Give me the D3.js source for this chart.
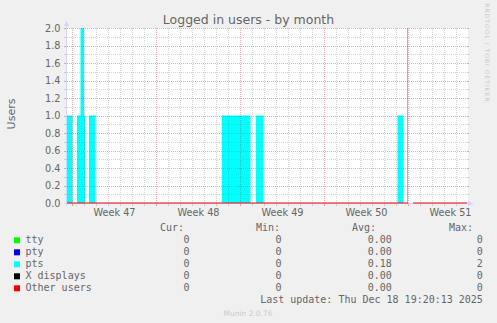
<!DOCTYPE html>
<html>
<head>
<meta charset="utf-8">
<script src="https://cdn.jsdelivr.net/npm/d3@7/dist/d3.min.js"></script>
<style>
  body { margin: 0; background: #f0f0f0; }
  svg { display: block; }
  text { font-family: "DejaVu Sans", sans-serif; font-size: 9.7px; fill: #666; }
  .title { font-size: 12.5px; }
  .vlabel { font-size: 11px; }
  .legend text { font-family: "DejaVu Sans Mono", monospace; font-size: 10px; }
  .faint { font-size: 7.5px; fill: #cacaca; }
</style>
</head>
<body>
<div id="chart"></div>
<script>
// time window of the month graph
var startTime = "2025-11-16 14:00",
    endTime = "2025-12-19 22:00";

// pts users as steps: each value holds until the next time
var ptsTimes = ["2025-11-16 14:00", "2025-11-17 01:00", "2025-11-17 10:00", "2025-11-17 17:00",
    "2025-11-18 00:00", "2025-11-18 02:00", "2025-11-18 10:00", "2025-11-18 23:00",
    "2025-11-29 12:00", "2025-12-01 21:00", "2025-12-02 08:00", "2025-12-02 23:00",
    "2025-12-14 03:00", "2025-12-14 15:00", "2025-12-14 22:00", "2025-12-15 00:00",
    "2025-12-19 22:00"];
var ptsValues = [1, 0, 1, 2, 1, 0, 1, 0, 1, 0, 1, 0, 1, 0, 2, 0, 0];

// "Other users" stays at 0 but has no data here
var otherGap = ["2025-12-15 00:00", "2025-12-15 10:00"];

// axis labels
var yLabels = [0, 0.2, 0.4, 0.6, 0.8, 1.0, 1.2, 1.4, 1.6, 1.8, 2.0];
var weekStarts = ["2025-11-17", "2025-11-24", "2025-12-01", "2025-12-08", "2025-12-15"];
var weekLabels = ["Week 47", "Week 48", "Week 49", "Week 50", "Week 51"];

// legend
var seriesNames = ["tty", "pty", "pts", "X displays", "Other users"];
var curValues = [0, 0, 0, 0, 0];
var minValues = [0, 0, 0, 0, 0];
var avgValues = [0, 0, 0.18, 0, 0];
var maxValues = [0, 0, 2, 0, 0];
var lastUpdate = "Last update: Thu Dec 18 19:20:13 2025";

// colours
var seriesColours = ["#00ff00", "#0000ff", "#00ffff", "#000000", "#ff0000"];
var minorGrid = "rgba(128,128,128,0.35)",
    majorGrid = "rgba(230,40,40,0.42)",
    axisColour = "#cfd6f8";

// sets dimensions
var width = 497, height = 323;
var plot = {left: 67, top: 28, width: 400, height: 175};
var x0 = plot.left, x1 = plot.left + plot.width,
    yTop = plot.top, yBottom = plot.top + plot.height;

var parseTime = d3.timeParse("%Y-%m-%d %H:%M"),
    parseDay = d3.timeParse("%Y-%m-%d");

var xScale = d3.scaleTime()
    .domain([parseTime(startTime), parseTime(endTime)])
    .range([x0, x1]);
var yScale = d3.scaleLinear()
    .domain([0, 2])
    .range([yBottom, yTop]);

function snap(v) { return Math.round(v) + 0.5; }

var svg = d3.select("#chart")
    .append("svg")
    .attr("width", width)
    .attr("height", height);

// white canvas
svg.append("rect")
    .attr("x", x0)
    .attr("y", yTop)
    .attr("width", plot.width + 1)
    .attr("height", plot.height)
    .attr("fill", "#fff");

// pts area
var pts = ptsTimes.map(function(t, i) {
    return {time: parseTime(t), value: ptsValues[i]};
});
var area = d3.area()
    .curve(d3.curveStepAfter)
    .x(function(d) { return xScale(d.time); })
    .y0(yScale(0))
    .y1(function(d) { return yScale(d.value); });

svg.append("path")
    .datum(pts)
    .attr("fill", seriesColours[2])
    .attr("d", area);

// grid, drawn over the data like rrdtool
var grid = svg.append("g")
    .attr("stroke-width", 1)
    .attr("fill", "none")
    .attr("shape-rendering", "crispEdges");

function hGrid(v, colour) {
    var y = snap(yScale(v));
    grid.append("line").attr("x1", x0).attr("x2", x1).attr("y1", y).attr("y2", y)
        .attr("stroke", colour).attr("stroke-dasharray", "1,1");
    grid.append("line").attr("x1", x0 - 3).attr("x2", x0).attr("y1", y).attr("y2", y)
        .attr("stroke", colour);
    grid.append("line").attr("x1", x1).attr("x2", x1 + 2).attr("y1", y).attr("y2", y)
        .attr("stroke", colour);
}
function vGrid(t, colour) {
    var x = snap(xScale(t));
    grid.append("line").attr("x1", x).attr("x2", x).attr("y1", yTop).attr("y2", yBottom)
        .attr("stroke", colour).attr("stroke-dasharray", "1,1");
    grid.append("line").attr("x1", x).attr("x2", x).attr("y1", yBottom).attr("y2", yBottom + 3)
        .attr("stroke", colour);
}

var domain = xScale.domain();
var mondays = d3.timeMonday.range(domain[0], domain[1]);
d3.timeDay.range(domain[0], domain[1]).forEach(function(t) {
    if (t.getDay() != 1) vGrid(t, minorGrid);
});
yScale.ticks(20).forEach(function(v) {
    if (Math.round(v * 10) % 2 == 1) hGrid(v, minorGrid);
});
mondays.forEach(function(t) { vGrid(t, majorGrid); });
yLabels.forEach(function(v) { hGrid(v, majorGrid); });

// axes lines with arrows
svg.append("line")
    .attr("x1", x0 - 0.5).attr("x2", x0 - 0.5)
    .attr("y1", yBottom + 3).attr("y2", yTop - 3)
    .attr("stroke", axisColour);
svg.append("path")
    .attr("d", "M" + (x0 - 0.5) + "," + (yTop - 7) + "L" + (x0 - 3) + "," + (yTop - 2) + "L" + (x0 + 2) + "," + (yTop - 2) + "Z")
    .attr("fill", axisColour);
svg.append("line")
    .attr("x1", x0 - 3).attr("x2", x1 + 2)
    .attr("y1", yBottom + 0.5).attr("y2", yBottom + 0.5)
    .attr("stroke", axisColour);
svg.append("path")
    .attr("d", "M" + (x1 + 1) + "," + (yBottom - 2.5) + "L" + (x1 + 6.5) + "," + (yBottom + 0.5) + "L" + (x1 + 1) + "," + (yBottom + 3.5) + "Z")
    .attr("fill", axisColour);

// "Other users" line at zero
var line = d3.line()
    .x(function(d) { return xScale(parseTime(d)); })
    .y(function() { return yScale(0); });
[[startTime, otherGap[0]], [otherGap[1], endTime]].forEach(function(seg) {
    svg.append("path")
        .attr("d", line(seg))
        .attr("stroke", seriesColours[4])
        .attr("stroke-width", 1)
        .attr("fill", "none");
});

// y axis labels
var yAxis = d3.axisLeft(yScale)
    .tickValues(yLabels)
    .tickFormat(d3.format(".1f"))
    .tickSize(0)
    .tickPadding(6.5);
svg.append("g")
    .attr("transform", "translate(" + x0 + ",0)")
    .call(yAxis)
    .call(function(g) { g.select(".domain").remove(); });

// week labels, centred in each week
var xAxis = d3.axisBottom(xScale)
    .tickValues(weekStarts.map(function(d) { return d3.timeHour.offset(parseDay(d), 84); }))
    .tickFormat(function(d, i) { return weekLabels[i]; })
    .tickSize(0)
    .tickPadding(5.8);
svg.append("g")
    .attr("transform", "translate(0," + yBottom + ")")
    .call(xAxis)
    .call(function(g) { g.select(".domain").remove(); });

// title and labels
svg.append("text")
    .attr("class", "title")
    .attr("x", width / 2)
    .attr("y", 24)
    .attr("text-anchor", "middle")
    .text("Logged in users - by month");

svg.append("text")
    .attr("class", "vlabel")
    .attr("transform", "translate(15,114) rotate(-90)")
    .attr("text-anchor", "middle")
    .text("Users");

svg.append("text")
    .attr("class", "faint")
    .attr("transform", "translate(484.5,53) rotate(90)")
    .attr("text-anchor", "middle")
    .style("font-size", "6px")
    .style("letter-spacing", "1px")
    .text("RRDTOOL / TOBI OETIKER");

svg.append("text")
    .attr("class", "faint")
    .attr("x", 248)
    .attr("y", 315.5)
    .attr("text-anchor", "middle")
    .text("Munin 2.0.76");

// legend
var legend = svg.append("g").attr("class", "legend");
var headerY = 231.3, rowGap = 12;
var columns = [
    {head: "Cur:", headX: 184, valX: 189.6, values: curValues, fmt: d3.format(".0f")},
    {head: "Min:", headX: 280, valX: 281.6, values: minValues, fmt: d3.format(".0f")},
    {head: "Avg:", headX: 376, valX: 391.9, values: avgValues, fmt: d3.format(".2f")},
    {head: "Max:", headX: 473, valX: 482.9, values: maxValues, fmt: d3.format(".0f")}
];

columns.forEach(function(c) {
    legend.append("text")
        .attr("x", c.headX).attr("y", headerY)
        .attr("text-anchor", "end")
        .text(c.head);
    c.values.forEach(function(v, i) {
        legend.append("text")
            .attr("x", c.valX).attr("y", headerY + rowGap * (i + 1))
            .attr("text-anchor", "end")
            .text(c.fmt(v));
    });
});

seriesNames.forEach(function(name, i) {
    var y = headerY + rowGap * (i + 1);
    legend.append("rect")
        .attr("x", 14).attr("y", y - 6)
        .attr("width", 6).attr("height", 6)
        .attr("fill", seriesColours[i]);
    legend.append("text")
        .attr("x", 25.5).attr("y", y)
        .text(name);
});

legend.append("text")
    .attr("x", 482.9)
    .attr("y", headerY + rowGap * 6)
    .attr("text-anchor", "end")
    .text(lastUpdate);
</script>
</body>
</html>
